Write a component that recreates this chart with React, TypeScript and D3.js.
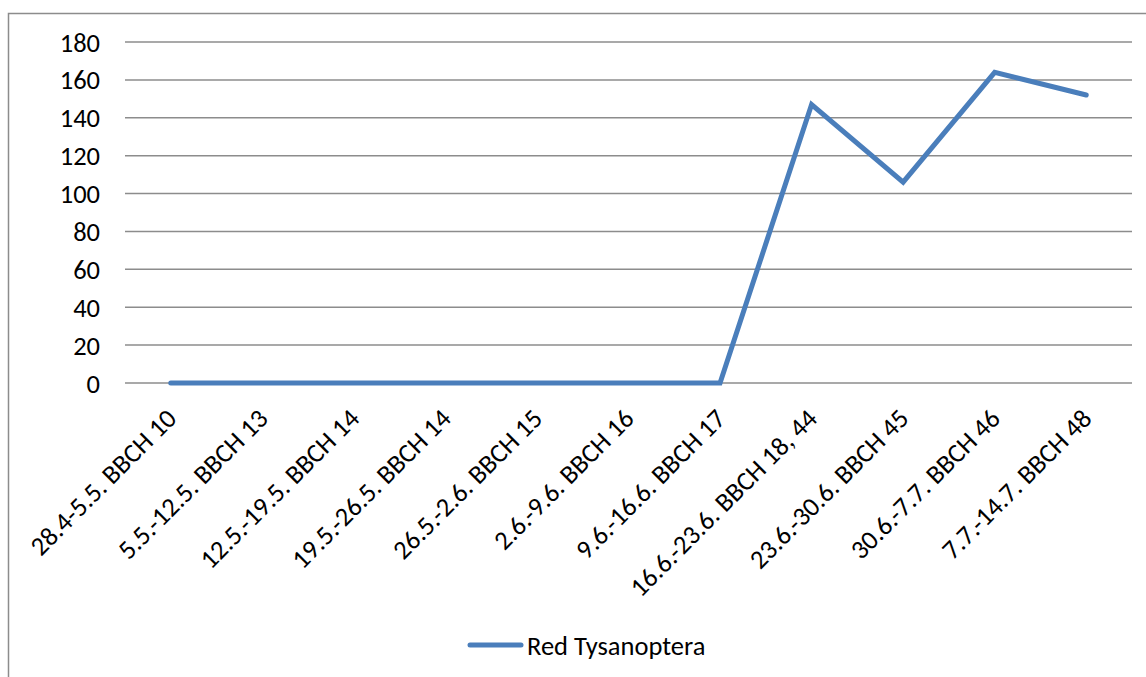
import { useEffect, useRef } from "react";
import * as d3 from "d3";

const categories = [
  "28.4-5.5. BBCH 10",
  "5.5.-12.5. BBCH 13",
  "12.5.-19.5. BBCH 14",
  "19.5.-26.5. BBCH 14",
  "26.5.-2.6. BBCH 15",
  "2.6.-9.6. BBCH 16",
  "9.6.-16.6. BBCH 17",
  "16.6.-23.6. BBCH 18, 44",
  "23.6.-30.6. BBCH 45",
  "30.6.-7.7. BBCH 46",
  "7.7.-14.7. BBCH 48",
];
const thripsValues = [0, 0, 0, 0, 0, 0, 0, 147, 106, 164, 152];
const yTicks = [0, 20, 40, 60, 80, 100, 120, 140, 160, 180];
const seriesName = "Red Tysanoptera";

export default function App() {
  const svgRef = useRef<SVGSVGElement>(null);

  useEffect(() => {
    if (!svgRef.current) return;
    const width = 1146;
    const height = 677;
    const font = "Carlito, Lato, 'Open Sans', sans-serif";
    const fs = 26.5;
    const lineColor = "#4a7ebb";

    const svg = d3.select(svgRef.current);
    svg.selectAll("*").remove();
    svg.attr("width", width).attr("height", height);

    // outer chart frame
    svg.append("rect")
      .attr("x", 8.5).attr("y", 13.5)
      .attr("width", 1160).attr("height", 700)
      .attr("fill", "white").attr("stroke", "#8c8c8c").attr("stroke-width", 1.5);

    const x = d3.scaleBand<string>().domain(categories).range([125, 1132]);
    const y = d3.scaleLinear().domain([0, 180]).range([383, 42]);

    // gridlines
    svg.append("g")
      .selectAll("line")
      .data(yTicks)
      .join("line")
      .attr("x1", 125).attr("x2", 1132)
      .attr("y1", (d) => y(d)).attr("y2", (d) => y(d))
      .attr("stroke", "#8c8c8c").attr("stroke-width", 1.5);

    // y labels
    svg.append("g")
      .selectAll("text")
      .data(yTicks)
      .join("text")
      .attr("x", 100).attr("y", (d) => y(d))
      .attr("dy", "0.36em")
      .attr("text-anchor", "end")
      .attr("font-family", font).attr("font-size", fs).attr("fill", "#000")
      .text((d) => d);

    // x labels, rotated -45deg
    svg.append("g")
      .selectAll("text")
      .data(categories)
      .join("text")
      .attr("transform", (d) => `translate(${x(d)! + x.bandwidth() / 2 - 6},${407}) rotate(-45)`)
      .attr("text-anchor", "end")
      .attr("dy", "0.7em")
      .attr("font-family", font).attr("font-size", fs).attr("fill", "#000")
      .text((d) => d);

    const line = d3.line<number>()
      .x((_, i) => x(categories[i])! + x.bandwidth() / 2)
      .y((d) => y(d));

    svg.append("path")
      .datum(thripsValues)
      .attr("d", line)
      .attr("fill", "none")
      .attr("stroke", lineColor)
      .attr("stroke-width", 5)
      .attr("stroke-linecap", "round")
      .attr("stroke-linejoin", "miter");

    // legend
    const lg = svg.append("g");
    lg.append("line")
      .attr("x1", 470).attr("x2", 521).attr("y1", 645).attr("y2", 645)
      .attr("stroke", lineColor).attr("stroke-width", 5).attr("stroke-linecap", "round");
    lg.append("text")
      .attr("x", 527).attr("y", 645).attr("dy", "0.36em")
      .attr("font-family", font).attr("font-size", fs).attr("fill", "#000")
      .text(seriesName);
  }, []);

  return <svg ref={svgRef} style={{ position: "absolute", left: 0, top: 0 }} />;
}
